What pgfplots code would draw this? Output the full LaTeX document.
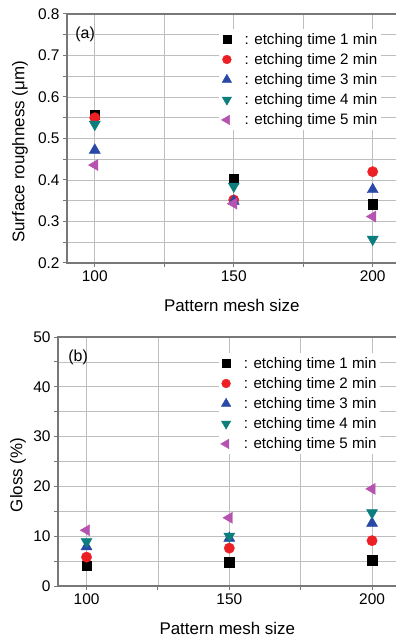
\documentclass[border=0pt]{standalone}
\usepackage{fontspec}
\setmainfont{Liberation Sans}
\usepackage{pgfplots}
\pgfplotsset{compat=1.18}
\definecolor{cred}{RGB}{236,32,36}
\definecolor{cblue}{RGB}{42,72,166}
\definecolor{cteal}{RGB}{12,126,126}
\definecolor{cmag}{RGB}{182,82,176}
\definecolor{cax}{RGB}{120,120,120}
\definecolor{cgrid}{RGB}{190,190,190}
\pgfplotsset{
  myax/.style={
    scale only axis,
    xmin=90, xmax=208.6,
    xtick={100,150,200}, minor xtick={125,175},
    xmajorgrids=true, xminorgrids=true, ymajorgrids=true, yminorgrids=true,
    grid style={draw=cgrid, line width=0.8pt},
    major grid style={draw=cgrid, line width=0.8pt},
    minor grid style={draw=cgrid, line width=0.8pt},
    axis line style={cax, line width=1.3pt},
    tick style={cax, line width=1pt},
    tick align=outside, xtick pos=bottom, ytick pos=left,
    major tick length=4pt, minor tick length=4pt,
    ticklabel style={font=\fontsize{15.5}{16}\selectfont},
    /pgf/number format/assume math mode=true,
    every axis x label/.style={at={(axis description cs:0.5,0)}, anchor=center, yshift=-42bp, font=\fontsize{17}{18}\selectfont},
    every axis y label/.style={at={(axis description cs:0,0.446)}, anchor=center, rotate=90, font=\fontsize{17}{18}\selectfont},
    legend cell align=left,
    legend style={draw=none, fill=white, font=\fontsize{15.2}{16}\selectfont, anchor=north west, row sep=3.7pt, column sep=11pt, inner sep=2pt},
    legend image post style={scale=0.85},
  },
  s1/.style={only marks, mark=square*, mark size=4.8, color=black},
  s2/.style={only marks, mark=*, mark size=5.2, color=cred},
  s3/.style={only marks, mark=triangle*, mark size=6.4, color=cblue},
  s4/.style={only marks, mark=triangle*, mark size=6.4, color=cteal, every mark/.append style={rotate=180}},
  s5/.style={only marks, mark=triangle*, mark size=6.4, color=cmag, every mark/.append style={rotate=90}},
}
\begin{document}
\begin{tikzpicture}
\path[use as bounding box] (0,0) rectangle (396bp,638bp);
% top panel
\begin{axis}[myax,
  at={(67bp,375bp)}, anchor=south west,
  width=329.6bp, height=249bp,
  ymin=0.2, ymax=0.8, ytick={0.2,0.3,...,0.8}, minor ytick={0.25,0.35,...,0.75},
  yticklabel style={/pgf/number format/.cd, fixed, fixed zerofill, precision=1},
  xlabel={Pattern mesh size}, ylabel={Surface roughness (μm)},
  every axis y label/.append style={yshift=47bp},
  legend style={at={(axis description cs:0.462,0.94)}},
]
\addplot[s1] coordinates {(100,0.557) (150,0.402) (200,0.342)};
\addplot[s2] coordinates {(100,0.550) (150,0.352) (200,0.420)};
\addplot[s3] coordinates {(100,0.472) (150,0.349) (200,0.377)};
\addplot[s4] coordinates {(100,0.534) (150,0.385) (200,0.257)};
\addplot[s5] coordinates {(100,0.436) (150,0.343) (200,0.312)};
\legend{: etching time 1 min, : etching time 2 min, : etching time 3 min, : etching time 4 min, : etching time 5 min}
\node[anchor=north west, inner sep=0pt, font=\fontsize{16}{17}\selectfont] at (axis description cs:0.025,0.95) {(a)};
\end{axis}
% bottom panel
\begin{axis}[myax,
  at={(58bp,52bp)}, anchor=south west,
  width=338.6bp, height=249bp,
  ymin=0, ymax=50, ytick={0,10,...,50}, minor ytick={5,15,...,45},
  xlabel={Pattern mesh size}, ylabel={Gloss (\%)},
  every axis y label/.append style={yshift=40bp},
  legend style={at={(axis description cs:0.474,0.936)}},
]
\addplot[s1] coordinates {(100,4.1) (150,4.75) (200,5.2)};
\addplot[s2] coordinates {(100,5.8) (150,7.6) (200,9.1)};
\addplot[s3] coordinates {(100,7.9) (150,9.6) (200,12.6)};
\addplot[s4] coordinates {(100,8.9) (150,10.0) (200,14.7)};
\addplot[s5] coordinates {(100,11.2) (150,13.7) (200,19.5)};
\legend{: etching time 1 min, : etching time 2 min, : etching time 3 min, : etching time 4 min, : etching time 5 min}
\node[anchor=north west, inner sep=0pt, font=\fontsize{16}{17}\selectfont] at (axis description cs:0.03,0.95) {(b)};
\end{axis}
\end{tikzpicture}
\end{document}
